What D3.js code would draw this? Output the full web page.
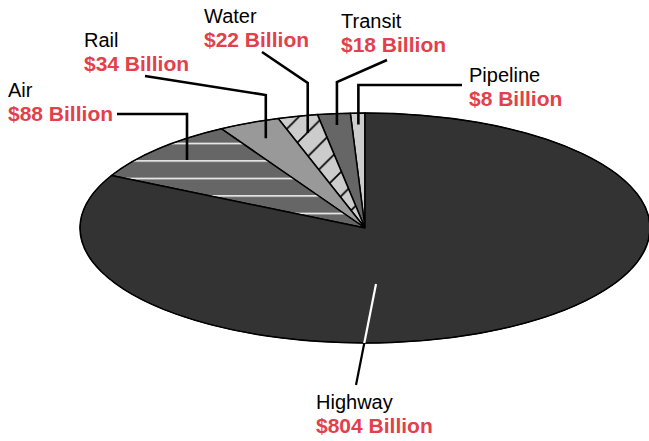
<!DOCTYPE html>
<html>
<head>
<meta charset="utf-8">
<script src="https://cdn.jsdelivr.net/npm/d3@7"></script>
<style>
  html, body { margin: 0; padding: 0; background: #fff; }
  svg { display: block; }
  text { font-family: "Liberation Sans", Arial, Helvetica, sans-serif; }
</style>
</head>
<body>
<svg id="chart" width="649" height="441"></svg>
<script>
// Spending by transportation mode (billions of dollars), counter-clockwise from 12 o'clock
const categories = ["Pipeline", "Transit", "Water", "Rail", "Air", "Highway"];
const values = [8, 18, 22, 34, 88, 804];
const valueUnit = "Billion";

// Fill for each slice
const fills = ["#cccccc", "#666666", "url(#hatchDiag)", "#999999", "url(#hatchHoriz)", "#333333"];

// Label layout: text anchor point and leader elbow / end points
const labelLayout = {
  Pipeline: { x: 469, y: 81.7, depth: 0.9,  elbowY: 85, end: [462, 85] },
  Transit:  { x: 341, y: 28.3, depth: 0.9,  elbowY: 82, end: [387, 60] },
  Water:    { x: 204, y: 22.7, depth: 0.85, elbowY: 83, end: [262, 52] },
  Rail:     { x: 84,  y: 47.3, depth: 0.855, elbowY: 95, end: [145, 76] },
  Air:      { x: 8,   y: 96.7, depth: 0.86, elbowY: 114, end: [117, 114] },
  Highway:  { x: 316, y: 409 }
};

const red = "#e2404a";
const cx = 365, cy = 228, rx = 285, ry = 115;

const svg = d3.select("#chart");
const defs = svg.append("defs");

// Horizontal white stripes on dark gray
const ph = defs.append("pattern")
  .attr("id", "hatchHoriz").attr("patternUnits", "userSpaceOnUse")
  .attr("x", 0).attr("y", 2.7).attr("width", 40).attr("height", 17.5);
ph.append("rect").attr("width", 40).attr("height", 17.5).attr("fill", "#666666");
ph.append("line").attr("x1", 0).attr("x2", 40).attr("y1", 0.75).attr("y2", 0.75)
  .attr("stroke", "#ffffff").attr("stroke-width", 1.5);

// Diagonal black hatching on light gray
const s = 24.3;
const pd = defs.append("pattern")
  .attr("id", "hatchDiag").attr("patternUnits", "userSpaceOnUse")
  .attr("x", 2.6).attr("y", 0).attr("width", s).attr("height", s);
pd.append("rect").attr("width", s).attr("height", s).attr("fill", "#cccccc");
pd.append("path")
  .attr("d", `M-2,2L2,-2M0,${s}L${s},0M${s - 2},${s + 2}L${s + 2},${s - 2}`)
  .attr("stroke", "#000").attr("stroke-width", 1.6);

defs.append("clipPath").attr("id", "pieClip")
  .append("ellipse").attr("cx", cx).attr("cy", cy).attr("rx", rx).attr("ry", ry);

const pie = d3.pie().sort(null).startAngle(0).endAngle(-2 * Math.PI).value(d => d.value);
const arcs = pie(categories.map((c, i) => ({ name: c, value: values[i], fill: fills[i] })));

const proj = (a, f = 1) => [cx + rx * f * Math.sin(a), cy - ry * f * Math.cos(a)];

function slicePath(d) {
  const [x0, y0] = proj(d.startAngle);
  const [x1, y1] = proj(d.endAngle);
  const large = Math.abs(d.endAngle - d.startAngle) > Math.PI ? 1 : 0;
  const sweep = d.endAngle > d.startAngle ? 1 : 0;
  return `M${cx},${cy}L${x0},${y0}A${rx},${ry} 0 ${large} ${sweep} ${x1},${y1}Z`;
}

// Highway leader runs under the pie (black outside)
const hw = labelLayout.Highway;
const hwLine = [[376, 284], [356, 385]];
svg.append("line")
  .attr("x1", hwLine[0][0]).attr("y1", hwLine[0][1])
  .attr("x2", hwLine[1][0]).attr("y2", hwLine[1][1])
  .attr("stroke", "#000").attr("stroke-width", 2.2);

svg.append("g").selectAll("path").data(arcs).join("path")
  .attr("d", slicePath)
  .attr("fill", d => d.data.fill)
  .attr("stroke", "#000")
  .attr("stroke-width", 1.5)
  .attr("stroke-linejoin", "round");

svg.append("ellipse")
  .attr("cx", cx).attr("cy", cy).attr("rx", rx).attr("ry", ry)
  .attr("fill", "none").attr("stroke", "#000").attr("stroke-width", 1);

// White part of the highway leader inside the pie
svg.append("line")
  .attr("clip-path", "url(#pieClip)")
  .attr("x1", hwLine[0][0]).attr("y1", hwLine[0][1])
  .attr("x2", hwLine[1][0]).attr("y2", hwLine[1][1])
  .attr("stroke", "#fff").attr("stroke-width", 2.2);

// Leader lines for the small slices
const lineGen = d3.line();
arcs.filter(d => d.data.name !== "Highway").forEach(d => {
  const L = labelLayout[d.data.name];
  const mid = (d.startAngle + d.endAngle) / 2;
  const a = proj(mid, L.depth);
  svg.append("path")
    .attr("d", lineGen([a, [a[0], L.elbowY], L.end]))
    .attr("fill", "none").attr("stroke", "#000")
    .attr("stroke-width", 2.6).attr("stroke-linejoin", "miter");
});

// Labels
arcs.forEach(d => {
  const L = labelLayout[d.data.name];
  svg.append("text")
    .attr("x", L.x).attr("y", L.y)
    .attr("font-size", 20).attr("fill", "#000")
    .text(d.data.name);
  svg.append("text")
    .attr("x", L.x).attr("y", L.y + 24)
    .attr("font-size", 21).attr("font-weight", "bold").attr("fill", red)
    .text(`$${d.data.value} ${valueUnit}`);
});
</script>
</body>
</html>
